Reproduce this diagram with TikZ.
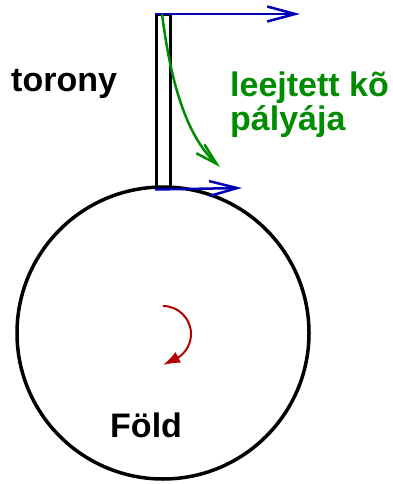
\documentclass[tikz,border=0pt]{standalone}
\usepackage{fontspec}
\setmainfont{Liberation Sans}
\usetikzlibrary{arrows.meta}
\definecolor{myblue}{RGB}{0,0,180}
\definecolor{mygreen}{RGB}{0,140,0}
\definecolor{myred}{RGB}{180,0,0}
\tikzset{
  lbl/.style={inner sep=0pt,font=\fontsize{34}{34}\selectfont\bfseries},
  velo/.style={myblue,line width=2.5pt,-{Straight Barb[length=28pt,width=15pt,line width=2.5pt]}},
}
\begin{document}
\begin{tikzpicture}[x=1pt,y=-1pt]
\useasboundingbox (0,0) rectangle (393,484);
% Earth
\node[circle,draw,line width=3.5pt,minimum size=292pt,inner sep=0pt] (earth) at (163,333) {};
% tower
\node[draw,line width=2.5pt,minimum width=14pt,minimum height=173pt,inner sep=0pt,anchor=north west] (tower) at (155,14) {};
\coordinate (t1) at (tower.north west);
\coordinate (t2) at (300,14);
\coordinate (b1) at (tower.south west);
\coordinate (b2) at (242,188);
\draw[velo] (t1) -- (t2);
\draw[velo] (b1) -- (b2);
% falling stone path
\coordinate (g1) at (162,14);
\coordinate (g2) at (220,167);
\draw[mygreen,line width=2.5pt,-{Straight Barb[length=22pt,width=12pt,line width=2.5pt]}] (g1) .. controls (168,60) and (180,130) .. (g2);
% rotation
\coordinate (rc) at (163,334);
\coordinate (rt) at (163,365);
\draw[myred,line width=2pt,-{Latex[length=17pt,width=12pt]}] ([shift={(90:28pt)}]rc) arc[start angle=90,end angle=-55,radius=28pt] -- (rt);
% labels
\node[lbl,anchor=base west] (torony) at (11,92) {torony};
\node[lbl,anchor=base west,text=mygreen,align=left] (l1) at (230,97) {leejtett kõ};
\node[lbl,anchor=base west,text=mygreen] (l2) at (230,130) {pályája};
\node[lbl,anchor=base west] (fold) at (110,437) {Föld};
\end{tikzpicture}
\end{document}
